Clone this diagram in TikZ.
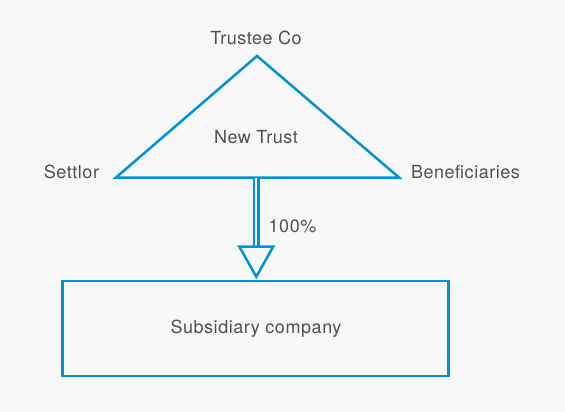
\documentclass[tikz,border=0pt]{standalone}
\usepackage{fontspec}
\setmainfont[LetterSpace=3]{TeX Gyre Heros}
\usepackage{tikz}
\usetikzlibrary{positioning,calc}
\definecolor{trustblue}{RGB}{0,148,214}
\definecolor{bggray}{RGB}{248,248,248}
\definecolor{textgray}{RGB}{80,80,80}

\begin{document}
\begin{tikzpicture}[x=1pt, y=-1pt]
    % Estilos
    \tikzset{label/.style={text=textgray, font=\fontsize{18}{20}\selectfont, inner sep=0pt, anchor=base}}
    \tikzset{outline/.style={draw=trustblue, line width=2.5pt, line join=miter}}
    \tikzset{shaft/.style={trustblue, line width=2.6pt, double=bggray, double distance=2pt}}
    % Fondo
    \fill[bggray] (0,0) rectangle (565,412);
    \useasboundingbox (0,0) rectangle (565,412);
    % Triangulo del fideicomiso
    \coordinate (apex) at (257,56);
    \coordinate (left) at (116,177.5);
    \coordinate (right) at (399,177.5);
    \draw[outline] (apex) -- (left) -- (right) -- cycle;
    \node[label] (trust) at (256,143) {New Trust};
    \node[label] (trustee) at (256,45) {Trustee Co};
    \node[label] (settlor) at (71.5,178.5) {Settlor};
    \node[label] (benef) at (465.5,178.5) {Beneficiaries};
    % Sociedad filial
    \node[outline, minimum width=386pt, minimum height=95pt, inner sep=0pt] (sub) at (255.5,328.5) {};
    \node[label] (subtext) at (256,333.5) {Subsidiary company};
    % Flecha de participacion
    \coordinate (base) at (256.3,177.5);
    \draw[shaft] (base) -- ++(0,69) coordinate (neck);
    \draw[outline, fill=bggray] (neck) ++(-17,0) -- ++(34,0) -- ($(sub.north)+(0.8,-3)$) -- cycle;
    \node[label] (pct) at (292.5,232) {100\%};
\end{tikzpicture}
\end{document}
